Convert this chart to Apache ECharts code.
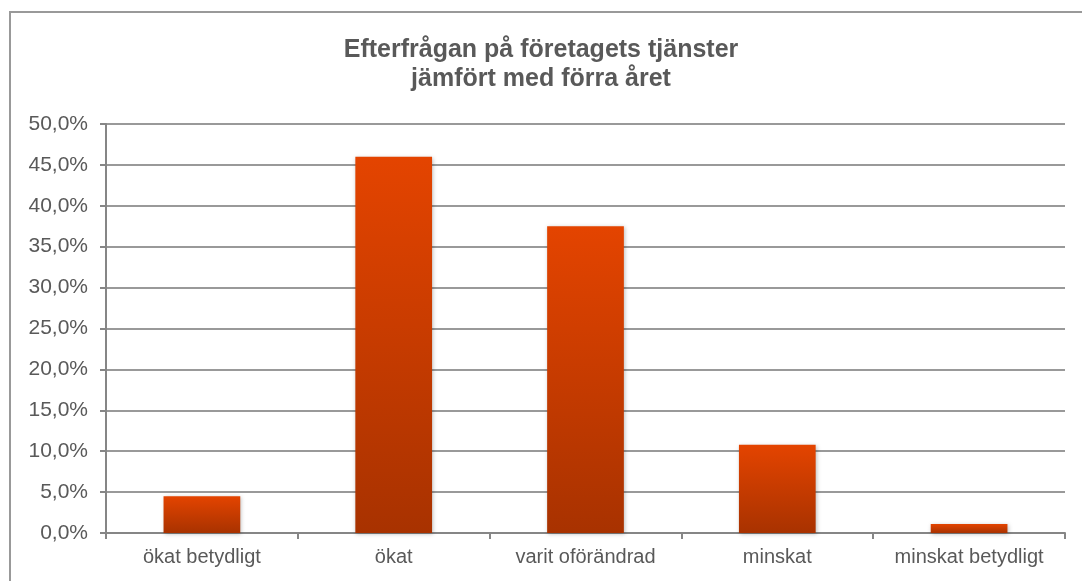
<html>
<head>
	<meta charset="UTF-8">
	<script src="https://cdn.jsdelivr.net/npm/echarts@6/dist/echarts.min.js"></script>
</head>
<style type="text/css">
body{margin:0;background:#fff;}
#chart{width:1082px;height:581px;}
</style>
<body>
	<div id="chart"></div>
</body>
<script type="text/javascript">
	var kategorier=["ökat betydligt","ökat","varit oförändrad","minskat","minskat betydligt"];//kategorier
	var andelar=[4.5,46.0,37.5,10.8,1.1];//procent
	var titelRader=["Efterfrågan på företagets tjänster","jämfört med förra året"];

	var dom=document.getElementById("chart");
	var myChart=echarts.init(dom);
	var gra="#595959";
	var option={
		backgroundColor:"#fff",
		animation:false,
		title:{
			text:titelRader.join("\n"),
			left:"center",
			top:31,
			textStyle:{fontFamily:"Liberation Sans",fontSize:25,fontWeight:"bold",color:gra,lineHeight:29}
		},
		graphic:[{
			type:"rect",
			shape:{x:10,y:12,width:1090,height:600},
			style:{fill:"none",stroke:"#999",lineWidth:2},
			silent:true
		}],
		grid:{left:106,right:17,top:124,bottom:48},
		xAxis:{
			type:"category",
			data:kategorier,
			axisLine:{lineStyle:{color:"#868686",width:2}},
			axisTick:{show:true,interval:0,length:6,lineStyle:{color:"#868686",width:2}},
			axisLabel:{color:gra,fontFamily:"Liberation Sans",fontSize:20,margin:14,interval:0,hideOverlap:false}
		},
		yAxis:{
			type:"value",
			min:0,max:50,interval:5,
			axisLine:{show:true,lineStyle:{color:"#868686",width:2}},
			axisTick:{show:true,length:6,lineStyle:{color:"#868686",width:2}},
			splitLine:{lineStyle:{color:"#999",width:2}},
			axisLabel:{color:gra,fontFamily:"Liberation Sans",fontSize:21,margin:18,
				formatter:function(v){return v.toFixed(1).replace(".",",")+"%";}}
		},
		series:[{
			type:"bar",
			data:andelar,
			barWidth:"40%",
			itemStyle:{
				color:new echarts.graphic.LinearGradient(0,0,0,1,[{offset:0,color:"#E44400"},{offset:1,color:"#A83200"}]),
				shadowColor:"rgba(0,0,0,0.25)",shadowBlur:4,shadowOffsetX:1,shadowOffsetY:1
			}
		}]
	};
	myChart.setOption(option,true);
</script>
</html>
